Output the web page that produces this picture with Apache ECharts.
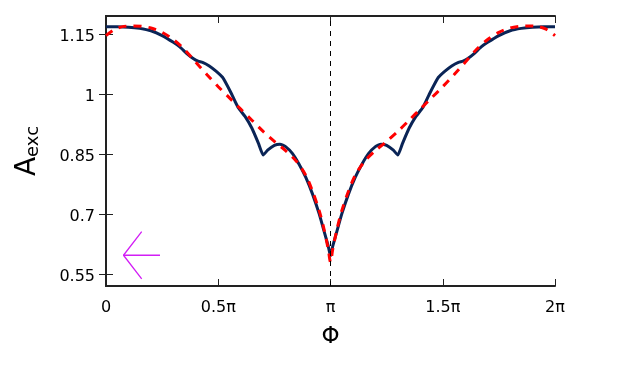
<!DOCTYPE html>
<html>
<head>
<meta charset="utf-8">
<script src="https://cdn.jsdelivr.net/npm/echarts@6/dist/echarts.min.js"></script>
<style>html,body{margin:0;padding:0;background:#fff;}#c{width:630px;height:375px;}</style>
</head>
<body>
<div id="c"></div>
<script>
// Φ in units of π
const solidPhi = [0,0.05,0.10,0.15,0.20,0.25,0.30,0.33,0.36,0.39,0.41,0.43,0.46,0.49,0.52,0.54,0.56,0.575,0.59,0.62,0.65,0.68,0.70,0.72,0.75,0.775,0.80,0.83,0.86,0.89,0.92,0.95,0.97,0.99,1.00,
  1.01,1.03,1.05,1.08,1.11,1.14,1.17,1.20,1.225,1.25,1.28,1.30,1.32,1.35,1.38,1.41,1.425,1.44,1.46,1.48,1.51,1.54,1.57,1.59,1.61,1.64,1.67,1.70,1.75,1.80,1.85,1.90,1.95,2.00];
const solidA = [1.169,1.169,1.168,1.165,1.159,1.147,1.130,1.118,1.102,1.089,1.083,1.080,1.071,1.058,1.042,1.022,1.000,0.982,0.966,0.944,0.915,0.876,0.848,0.860,0.872,0.875,0.869,0.852,0.825,0.792,0.750,0.700,0.660,0.620,0.595,
  0.620,0.660,0.700,0.750,0.792,0.825,0.852,0.869,0.875,0.872,0.860,0.848,0.876,0.915,0.944,0.966,0.982,1.000,1.022,1.042,1.058,1.071,1.080,1.083,1.089,1.102,1.118,1.130,1.147,1.159,1.165,1.168,1.169,1.169];
const dashPhi = [0,0.04,0.08,0.12,0.16,0.20,0.25,0.30,0.35,0.40,0.45,0.50,0.55,0.60,0.65,0.70,0.75,0.80,0.85,0.89,0.92,0.95,0.97,0.99,1.00,
  1.01,1.03,1.05,1.08,1.11,1.15,1.20,1.25,1.30,1.35,1.40,1.45,1.50,1.55,1.60,1.65,1.70,1.75,1.80,1.84,1.88,1.92,1.96,2.00];
const dashA = [1.147,1.163,1.170,1.171,1.170,1.166,1.155,1.137,1.112,1.080,1.049,1.019,0.991,0.963,0.935,0.907,0.882,0.859,0.831,0.797,0.757,0.708,0.665,0.612,0.580,
  0.612,0.665,0.708,0.757,0.797,0.831,0.859,0.882,0.907,0.935,0.963,0.991,1.019,1.049,1.080,1.112,1.137,1.155,1.166,1.170,1.171,1.170,1.163,1.147];
const xTickLabels = ['0','0.5π','π','1.5π','2π'];
const yTickValues = [0.55,0.7,0.85,1,1.15];
// magenta annotation arrow (data space)
const arrowShaftPhi = [0.2405,0.078];
const arrowShaftA = [0.597,0.597];
const arrowHeadPhi = [0.159,0.078,0.159];
const arrowHeadA = [0.656,0.597,0.538];

const zip = (xs, ys) => xs.map((x,i)=>[x, ys[i]]);
const font = 'DejaVu Sans';
const axisLineStyle = {color:'#222', width:2};
const chart = echarts.init(document.getElementById('c'));
chart.setOption({
  animation:false,
  backgroundColor:'#fff',
  grid:{left:106,right:75,top:16,bottom:89},
  xAxis:[{
    type:'value', min:0, max:2, interval:0.5, position:'bottom',
    axisLine:{show:true,lineStyle:axisLineStyle},
    axisTick:{show:true,inside:true,length:7,lineStyle:{color:'#222',width:1}},
    splitLine:{show:false},
    axisLabel:{fontFamily:font,fontSize:16,color:'#000',margin:14,formatter:(v)=>xTickLabels[Math.round(v/0.5)]},
    name:'Φ', nameLocation:'middle', nameGap:40,
    nameTextStyle:{fontFamily:font,fontSize:23,color:'#000'}
  },{
    type:'value', min:0, max:2, interval:0.5, position:'top',
    axisLine:{show:true,lineStyle:axisLineStyle},
    axisTick:{show:true,inside:true,length:7,lineStyle:{color:'#222',width:1}},
    axisLabel:{show:false}, splitLine:{show:false}
  }],
  yAxis:[{
    type:'value', min:0.52, max:1.196, position:'left',
    axisLine:{show:true,lineStyle:axisLineStyle},
    axisTick:{show:true,inside:true,length:7,customValues:yTickValues,lineStyle:{color:'#222',width:1}},
    splitLine:{show:false},
    axisLabel:{fontFamily:font,fontSize:16,color:'#000',margin:11,customValues:yTickValues,
      formatter:(v)=>'{v|'+v+'}',
      rich:{v:{fontFamily:font,fontSize:16,color:'#000',padding:[5,0,0,0]}}},
    name:'{a|A}{s|exc}', nameLocation:'middle', nameGap:64, nameRotate:90,
    nameTextStyle:{fontFamily:font,color:'#000',rich:{
      a:{fontSize:28,fontFamily:font,color:'#000',verticalAlign:'bottom'},
      s:{fontSize:18,fontFamily:font,color:'#000',verticalAlign:'bottom'}
    }}
  },{
    type:'value', min:0.52, max:1.196, position:'right',
    axisLine:{show:true,lineStyle:axisLineStyle},
    axisTick:{show:true,inside:true,length:7,customValues:yTickValues,lineStyle:{color:'#222',width:1}},
    axisLabel:{show:false}, splitLine:{show:false}
  }],
  series:[
    {type:'line', data:zip(solidPhi,solidA), showSymbol:false, smooth:0.15,
     lineStyle:{color:'#0a2456',width:3}, z:3,
     markLine:{silent:true,symbol:['none','none'],label:{show:false},
       lineStyle:{color:'#000',width:1,type:[5,5]},data:[{xAxis:1}]}},
    {type:'line', data:zip(dashPhi,dashA), showSymbol:false, smooth:0.3,
     lineStyle:{color:'#ff0000',width:3,type:[8,7]}, z:4},
    {type:'line', data:zip(arrowShaftPhi,arrowShaftA), showSymbol:false,
     lineStyle:{color:'#d21ef5',width:1.3}, z:5},
    {type:'line', data:zip(arrowHeadPhi,arrowHeadA), showSymbol:false,
     lineStyle:{color:'#d21ef5',width:1.3}, z:5}
  ]
});
</script>
</body>
</html>
